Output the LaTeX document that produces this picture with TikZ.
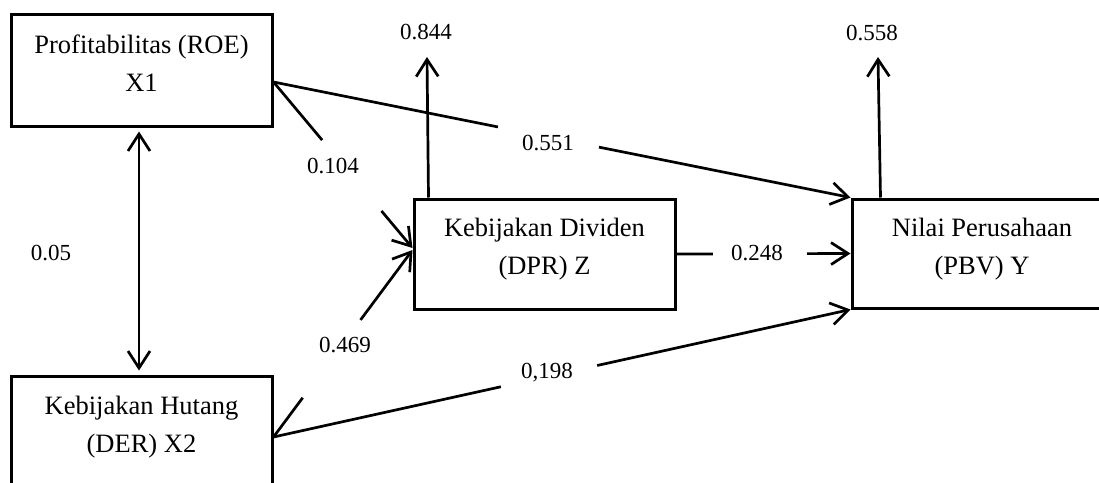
\documentclass[tikz,border=0pt]{standalone}
\usepackage{fontspec}
\setmainfont{Liberation Serif}
\usetikzlibrary{arrows.meta,calc}
\begin{document}
\begin{tikzpicture}[x=1pt,y=-1pt,
  box/.style={draw, line width=3pt, inner sep=0pt},
  btext/.style={font=\fontsize{26.5}{38}\selectfont, align=center, inner sep=0pt},
  lab/.style={font=\fontsize{23}{27}\selectfont, inner sep=0pt},
  conn/.style={line width=2.7pt},
  arr/.style={conn, -{Straight Barb[length=17pt,width=22pt]}},
  darr/.style={conn, {Straight Barb[length=17pt,width=22pt]}-{Straight Barb[length=17pt,width=22pt]}},
]
\useasboundingbox (0,0) rectangle (1099,482);
\clip (0,0) rectangle (1099,482);

% boxes
\node[box, minimum width=261pt, minimum height=112pt] (X1) at (141.5,70) {};
\node[box, minimum width=261pt, minimum height=112pt] (X2) at (141.5,432) {};
\node[box, minimum width=261pt, minimum height=110pt] (Z) at (544.5,254) {};
\node[box, minimum width=260pt, minimum height=109pt] (Y) at (982,253.5) {};

% box texts
\node[btext] (X1t) at (141.5,63) {Profitabilitas (ROE)\\X1};
\node[btext] (X2t) at (141.5,427) {Kebijakan Hutang\\(DER) X2};
\node[btext] (Zt) at (544.5,249.5) {Kebijakan Dividen\\(DPR) Z};
\node[btext] (Yt) at (982,249) {Nilai Perusahaan\\(PBV) Y};

% labels
\node[lab] (l05) at (51,253) {0.05};
\node[lab] (l104) at (333,166) {0.104};
\node[lab] (l469) at (345,345) {0.469};
\node[lab] (l551) at (548,143) {0.551};
\node[lab] (l198) at (547,373) {0,198};
\node[lab] (l248) at (757,253) {0.248};
\node[lab] (l844) at (426,32) {0.844};
\node[lab] (l558) at (872,33) {0.558};

% anchor coordinates
\coordinate (s1) at ([yshift=-12pt]X1.east);
\coordinate (s2) at ([yshift=-5pt]X2.east);
\coordinate (tz1) at ([yshift=6pt]Z.west);
\coordinate (tz2) at ([yshift=4pt]Z.west);
\coordinate (zt) at (427,57);
\coordinate (yt) at (878,57);

% X1 <-> X2
\draw[darr, shorten <=4pt, shorten >=4pt] ([xshift=-2.5pt]X1.south) -- ([xshift=-2.5pt]X2.north);

% X1 -> Z
\draw[conn] (s1) -- ($(s1)!0.35!(tz1)$);
\draw[arr] ($(s1)!0.777!(tz1)$) -- (tz1);

% X2 -> Z
\draw[conn] (s2) -- ($(s2)!0.21!(tz2)$);
\draw[arr] ($(s2)!0.626!(tz2)$) -- (tz2);

% X1 -> Y
\draw[conn] (s1) -- ($(s1)!0.389!(Y.north west)$);
\draw[arr] ($(s1)!0.564!(Y.north west)$) -- (Y.north west);

% X2 -> Y
\draw[conn] (s2) -- ($(s2)!0.394!(Y.south west)$);
\draw[arr] ($(s2)!0.561!(Y.south west)$) -- (Y.south west);

% Z -> Y
\draw[conn] (Z.east) -- ($(Z.east)!0.209!(Y.west)$);
\draw[arr] ($(Z.east)!0.751!(Y.west)$) -- (Y.west);

% residual arrows
\draw[arr] ([xshift=16pt]Z.north west) -- (zt);
\draw[arr] ([xshift=30pt]Y.north west) -- (yt);
\end{tikzpicture}
\end{document}
